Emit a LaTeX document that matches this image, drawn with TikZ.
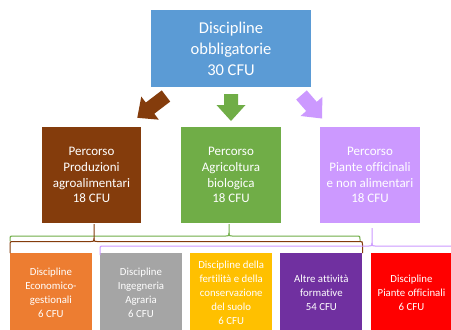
\documentclass[tikz,border=0pt]{standalone}
\usepackage{fontspec}
\setmainfont{Carlito}[Ligatures=NoCommon]
\usetikzlibrary{calc}
\definecolor{cblue}{HTML}{5B9BD5}
\definecolor{cbrown}{HTML}{843C0C}
\definecolor{cgreen}{HTML}{70AD47}
\definecolor{clilac}{HTML}{CC99FF}
\definecolor{corange}{HTML}{ED7D31}
\definecolor{cgrey}{HTML}{A5A5A5}
\definecolor{cyellow}{HTML}{FFC000}
\definecolor{cviolet}{HTML}{7030A0}
\definecolor{cred}{HTML}{FF0000}
\newcommand\blockarrow[3]{%
  \coordinate (hbase) at ($(#3)!16pt!(#2)$);
  \fill[#1] ($(#2)!7pt!90:(#3)$) -- ($(hbase)!7pt!-90:(#2)$)
    -- ($(hbase)!14.5pt!-90:(#2)$) -- (#3)
    -- ($(hbase)!14.5pt!90:(#2)$) -- ($(hbase)!7pt!90:(#2)$)
    -- ($(#2)!7pt!-90:(#3)$) -- cycle;}
\tikzset{
  box/.style={rectangle, inner sep=0pt, text=white, align=center},
  topbox/.style={box, fill=cblue, minimum width=160pt, minimum height=77.5pt,
    font=\fontsize{16.5}{21}\selectfont},
  midbox/.style={box, minimum width=99.5pt, minimum height=96.5pt,
    font=\fontsize{13}{15.8}\selectfont},
  lowbox/.style={box, minimum width=82pt, minimum height=78.4pt,
    font=\fontsize{10.8}{13.9}\selectfont},
  brace/.style={line width=1pt}
}
\begin{document}
\begin{tikzpicture}[x=1pt,y=-1pt]
\clip (0,0) rectangle (451,330);
\fill[white] (0,0) rectangle (451,330);

\node[topbox] (top) at (231,48.7) {Discipline\\obbligatorie\\30 CFU};

\node[midbox, fill=cbrown] (pa) at (91.5,175) {Percorso\\Produzioni\\agroalimentari\\18 CFU};
\node[midbox, fill=cgreen] (pb) at (231,175) {Percorso\\Agricoltura\\biologica\\18 CFU};
\node[midbox, fill=clilac] (pc) at (370,175) {Percorso\\Piante officinali\\e non alimentari\\18 CFU};

\node[lowbox, fill=corange] (d1) at (50.9,292.5) {Discipline\\Economico-\\gestionali\\6 CFU};
\node[lowbox, fill=cgrey] (d2) at (141,292.5) {Discipline\\Ingegneria\\Agraria\\6 CFU};
\node[lowbox, fill=cyellow] (d3) at (231.2,292.5) {Discipline della\\fertilità e della\\conservazione\\del suolo\\6 CFU};
\node[lowbox, fill=cviolet] (d4) at (321.4,292.5) {Altre attività\\formative\\54 CFU};
\node[lowbox, fill=cred] (d5) at (411.5,292.5) {Discipline\\Piante officinali\\6 CFU};

% block arrows
\coordinate (ta) at (166,96);  \coordinate (ha) at (137.3,117.8);
\coordinate (tb) at (231,94);  \coordinate (hb) at (231,121);
\coordinate (tc) at (301.5,95); \coordinate (hc) at (322,118.5);
\blockarrow{cbrown}{ta}{ha}
\blockarrow{cgreen}{tb}{hb}
\blockarrow{clilac}{tc}{hc}

% braces
\draw[brace, cgreen] (10,241) -- (10,239) .. controls (10,236) .. (13,236) -- (226,236)
  .. controls (229,236) .. (229,233) -- (229,224);
\draw[brace, cgreen] (229,233) .. controls (229,236) .. (232,236) -- (357,236)
  .. controls (360,236) .. (360,239) -- (360,241);

\draw[brace, cbrown] (10,253) -- (10,244.5) .. controls (10,241.5) .. (13,241.5) -- (91,241.5)
  .. controls (94,241.5) .. (94,238.5) -- (94,224);
\draw[brace, cbrown] (94,238.5) .. controls (94,241.5) .. (97,241.5) -- (359.5,241.5)
  .. controls (362.5,241.5) .. (362.5,244.5) -- (362.5,253);

\draw[brace, clilac] (100,255) -- (100,249) .. controls (100,246) .. (103,246) -- (369,246)
  .. controls (372,246) .. (372,243) -- (372,228);
\draw[brace, clilac] (372,243) .. controls (372,246) .. (375,246) -- (460,246);
\end{tikzpicture}
\end{document}
